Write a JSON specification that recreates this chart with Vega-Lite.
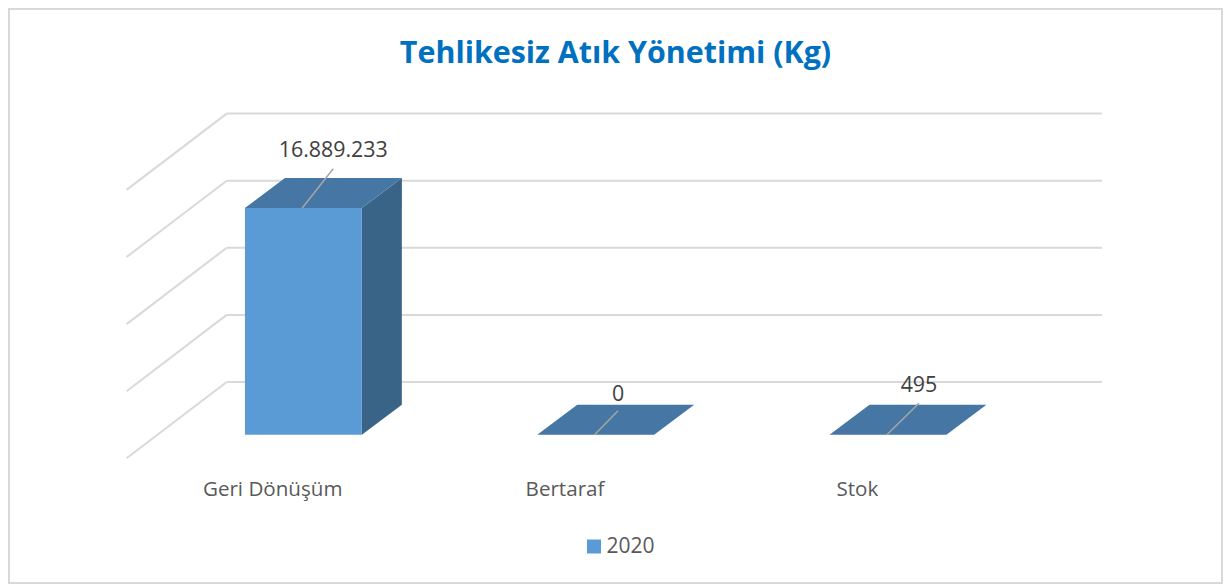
{
  "$schema": "https://vega.github.io/schema/vega-lite/v6.json",
  "width": 1213,
  "height": 574,
  "autosize": "none",
  "padding": {"left": 9, "top": 9, "right": 1, "bottom": 1},
  "background": "white",
  "view": {"stroke": "#d9d9d9", "strokeWidth": 2, "fill": "white"},
  "config": {
    "font": "Open Sans",
    "locale": {"number": {"decimal": ",", "thousands": ".", "grouping": [3], "currency": ["", ""]}}
  },
  "title": {
    "text": "Tehlikesiz Atık Yönetimi (Kg)",
    "font": "Open Sans",
    "fontSize": 30.4,
    "fontWeight": "bold",
    "color": "#0070C0",
    "anchor": "middle",
    "offset": 0,
    "dy": 60
  },
  "datasets": {
    "bars": [
      {"category": "Geri Dönüşüm", "value": 16889233, "series": "2020"},
      {"category": "Bertaraf", "value": 0, "series": "2020"},
      {"category": "Stok", "value": 495, "series": "2020"}
    ],
    "grid": [
      {"tick": 0},
      {"tick": 5000000},
      {"tick": 10000000},
      {"tick": 15000000},
      {"tick": 20000000}
    ]
  },
  "encoding": {
    "x": {"field": "px", "type": "quantitative", "axis": null, "scale": {"domain": [-1.00718, 3.14266], "nice": false, "zero": false}},
    "y": {"field": "py", "type": "quantitative", "axis": null, "scale": {"domain": [-11050671, 31721311], "nice": false, "zero": false}}
  },
  "layer": [
    {
      "data": {"name": "grid"},
      "transform": [
        {"calculate": "-0.2624", "as": "px"},
        {"calculate": "2.732", "as": "px2"},
        {"calculate": "datum.tick + 3927000", "as": "py"},
        {"calculate": "datum.py", "as": "py2"}
      ],
      "mark": {"type": "rule", "color": "#d9d9d9", "strokeWidth": 2},
      "encoding": {"x2": {"field": "px2"}, "y2": {"field": "py2"}}
    },
    {
      "data": {"name": "grid"},
      "transform": [
        {"calculate": "-0.605", "as": "px"},
        {"calculate": "-0.2624", "as": "px2"},
        {"calculate": "datum.tick - 1759000", "as": "py"},
        {"calculate": "datum.tick + 3927000", "as": "py2"}
      ],
      "mark": {"type": "rule", "color": "#d9d9d9", "strokeWidth": 2},
      "encoding": {"x2": {"field": "px2"}, "y2": {"field": "py2"}}
    },
    {
      "data": {"name": "bars"},
      "transform": [
        {"calculate": "indexof(['Geri Dönüşüm','Bertaraf','Stok'], datum.category)", "as": "i"},
        {"filter": "datum.value > 1000"},
        {"calculate": "[0,1]", "as": "k"},
        {"flatten": ["k"]},
        {"calculate": "datum.i + 0.2 + datum.k * 0.1368", "as": "px"},
        {"calculate": "datum.value + datum.k * 2235000", "as": "py"},
        {"calculate": "datum.k * 2235000", "as": "py2"}
      ],
      "mark": {"type": "area", "color": "#3A6487", "interpolate": "linear"},
      "encoding": {"y2": {"field": "py2"}, "detail": {"field": "category"}}
    },
    {
      "data": {"name": "bars"},
      "transform": [
        {"calculate": "indexof(['Geri Dönüşüm','Bertaraf','Stok'], datum.category)", "as": "i"},
        {"calculate": "[0,1,2,3]", "as": "k"},
        {"flatten": ["k"]},
        {"calculate": "datum.i - 0.2 + [0, 0.1368, 0.4, 0.5368][datum.k]", "as": "px"},
        {"calculate": "datum.value + [0, 2235000, 2235000, 2235000][datum.k]", "as": "py"},
        {"calculate": "datum.value + [0, 0, 0, 2235000][datum.k]", "as": "py2"}
      ],
      "mark": {"type": "area", "color": "#4676A3", "interpolate": "linear"},
      "encoding": {"y2": {"field": "py2"}, "detail": {"field": "category"}}
    },
    {
      "data": {"name": "bars"},
      "transform": [
        {"calculate": "indexof(['Geri Dönüşüm','Bertaraf','Stok'], datum.category)", "as": "i"},
        {"calculate": "datum.i - 0.2", "as": "px"},
        {"calculate": "datum.i + 0.2", "as": "px2"},
        {"calculate": "datum.value", "as": "py"},
        {"calculate": "0", "as": "py2"}
      ],
      "mark": {"type": "rect"},
      "encoding": {
        "x2": {"field": "px2"},
        "y2": {"field": "py2"},
        "color": {
          "field": "series",
          "type": "nominal",
          "scale": {"domain": ["2020"], "range": ["#5B9BD5"]},
          "legend": {
            "title": null,
            "orient": "none",
            "legendX": 574.5,
            "legendY": 527,
            "symbolType": "square",
            "symbolSize": 196,
            "symbolStrokeWidth": 0,
            "labelFontSize": 21,
            "labelFont": "Open Sans",
            "labelColor": "#595959",
            "labelOffset": 2,
            "padding": 0
          }
        }
      }
    },
    {
      "data": {"name": "bars"},
      "transform": [
        {"calculate": "indexof(['Geri Dönüşüm','Bertaraf','Stok'], datum.category)", "as": "i"},
        {"calculate": "datum.i - 0.004", "as": "px"},
        {"calculate": "datum.i + [0.102, 0.0763, 0.106][datum.i]", "as": "px2"},
        {"calculate": "datum.value", "as": "py"},
        {"calculate": "datum.value + [2930000, 1788000, 2340000][datum.i]", "as": "py2"}
      ],
      "mark": {"type": "rule", "color": "#a6a6a6", "strokeWidth": 1.5},
      "encoding": {"x2": {"field": "px2"}, "y2": {"field": "py2"}}
    },
    {
      "data": {"name": "bars"},
      "transform": [
        {"calculate": "indexof(['Geri Dönüşüm','Bertaraf','Stok'], datum.category)", "as": "i"},
        {"calculate": "datum.i + [0.102, 0.0763, 0.106][datum.i]", "as": "px"},
        {"calculate": "datum.value + [4220000, 2980000, 3620000][datum.i]", "as": "py"}
      ],
      "mark": {"type": "text", "font": "Open Sans", "fontSize": 21.4, "color": "#404040", "align": "center", "baseline": "middle"},
      "encoding": {"text": {"field": "value", "type": "quantitative", "format": ",d"}}
    },
    {
      "data": {"name": "bars"},
      "transform": [
        {"calculate": "indexof(['Geri Dönüşüm','Bertaraf','Stok'], datum.category)", "as": "i"},
        {"calculate": "datum.i - 0.105", "as": "px"},
        {"calculate": "-4110000", "as": "py"}
      ],
      "mark": {"type": "text", "font": "Open Sans", "fontSize": 20.6, "color": "#595959", "align": "center", "baseline": "middle"},
      "encoding": {"text": {"field": "category", "type": "nominal"}}
    }
  ]
}
